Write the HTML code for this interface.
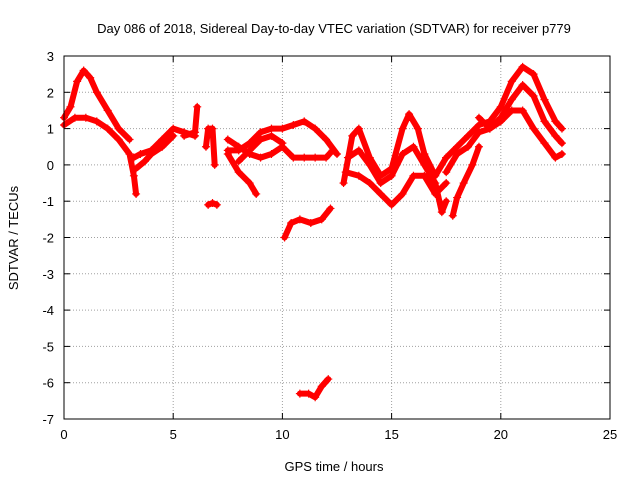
<!DOCTYPE html>
<html><head><meta charset="utf-8"><style>
body{margin:0;background:#fff;}
svg text{font-family:"Liberation Sans",sans-serif;font-size:13px;fill:#000;}
</style></head><body>
<svg id="chart" width="640" height="480" xmlns="http://www.w3.org/2000/svg">
<rect width="640" height="480" fill="#fff"/>
<text x="334" y="33" text-anchor="middle">Day 086 of 2018, Sidereal Day-to-day VTEC variation (SDTVAR) for receiver p779</text>
<text x="334" y="471" text-anchor="middle">GPS time / hours</text>
<text transform="translate(18,238) rotate(-90)" text-anchor="middle">SDTVAR / TECUs</text>
<g id="grid"></g>
<g id="ticks"></g>
<g id="marks"></g>
<rect x="64" y="56" width="546" height="363" fill="none" stroke="#000" stroke-width="1"/>
</svg>
<script>
const xTicks=[0,5,10,15,20,25];
const yTicks=[3,2,1,0,-1,-2,-3,-4,-5,-6,-7];
const xMin=0,xMax=25,yMin=-7,yMax=3;
const trackA_t=[0,0.3,0.6,0.9,1.2,1.5,2.0,2.5,3.0];
const trackA_v=[1.3,1.6,2.3,2.6,2.4,2.0,1.5,1.0,0.7];
const trackB_t=[0,0.5,1.0,1.5,2.0,2.5,3.0,3.2,3.3];
const trackB_v=[1.1,1.3,1.3,1.2,1.0,0.7,0.3,-0.3,-0.8];
const trackC_t=[3.2,3.5,4,4.5,5,5.5,6];
const trackC_v=[0.2,0.3,0.4,0.7,1.0,0.9,0.8];
const trackD_t=[3.3,3.7,4,4.5,5];
const trackD_v=[-0.1,0.1,0.3,0.5,0.8];
const trackE_t=[5.5,6,6.1];
const trackE_v=[0.8,0.9,1.6];
const trackF_t=[6.6,6.8,7.0];
const trackF_v=[-1.1,-1.05,-1.1];
const trackG_t=[6.5,6.6,6.8,6.9];
const trackG_v=[0.5,1.0,1.0,0.0];
const trackH_t=[7.5,8,8.5,8.8];
const trackH_v=[0.3,-0.2,-0.5,-0.8];
const trackI_t=[7.5,8,8.5,9,9.5,10,10.5,11,11.5,12,12.5];
const trackI_v=[0.4,0.4,0.6,0.9,1.0,1.0,1.1,1.2,1.0,0.7,0.3];
const trackJ_t=[7.5,8,8.5,9,9.5,10,10.5,11,11.5,12,12.3];
const trackJ_v=[0.7,0.5,0.3,0.2,0.3,0.5,0.2,0.2,0.2,0.2,0.4];
const trackK_t=[8,8.5,9,9.5,10];
const trackK_v=[0.1,0.4,0.7,0.8,0.6];
const trackL_t=[10.1,10.4,10.8,11.3,11.8,12.2];
const trackL_v=[-2.0,-1.6,-1.5,-1.6,-1.5,-1.2];
const trackM_t=[10.8,11.2,11.5,11.8,12.1];
const trackM_v=[-6.3,-6.3,-6.4,-6.1,-5.9];
const trackN_t=[12.8,13.2,13.5,14,14.5,15,15.5,15.8,16.2,16.5,17,17.5];
const trackN_v=[-0.5,0.8,1.0,0.2,-0.3,-0.1,1.0,1.4,1.0,0.3,-0.3,0.2];
const trackO_t=[12.9,13.5,14,14.5,15,15.5,16,16.5,17,17.5];
const trackO_v=[-0.2,-0.3,-0.5,-0.8,-1.1,-0.8,-0.3,-0.3,-0.8,-0.5];
const trackP_t=[13,13.5,14,14.5,15,15.5,16,16.5,17,17.3,17.5];
const trackP_v=[0.2,0.4,0.0,-0.5,-0.3,0.3,0.5,0.0,-0.5,-1.3,-1.0];
const trackQ_t=[17.5,18,18.5,19,19.5,20,20.5,21,21.5,22,22.5,22.8];
const trackQ_v=[-0.2,0.3,0.5,0.9,1.0,1.2,1.5,1.5,1.0,0.6,0.2,0.3];
const trackR_t=[17.5,18,18.5,19,19.5,20,20.5,21,21.5,22,22.5,22.8];
const trackR_v=[0.2,0.5,0.8,1.1,1.2,1.6,2.3,2.7,2.5,1.8,1.2,1.0];
const trackS_t=[19,19.5,20,20.5,21,21.5,22,22.5,22.8];
const trackS_v=[1.3,1.0,1.3,1.8,2.2,1.9,1.2,0.8,0.6];
const trackT_t=[17.8,18,18.3,18.7,19];
const trackT_v=[-1.4,-0.9,-0.5,0.0,0.5];
const tracks=[[trackA_t,trackA_v],[trackB_t,trackB_v],[trackC_t,trackC_v],[trackD_t,trackD_v],[trackE_t,trackE_v],[trackF_t,trackF_v],[trackG_t,trackG_v],[trackH_t,trackH_v],[trackI_t,trackI_v],[trackJ_t,trackJ_v],[trackK_t,trackK_v],[trackL_t,trackL_v],[trackM_t,trackM_v],[trackN_t,trackN_v],[trackO_t,trackO_v],[trackP_t,trackP_v],[trackQ_t,trackQ_v],[trackR_t,trackR_v],[trackS_t,trackS_v],[trackT_t,trackT_v]];
const L=64,R=610,T=56,B=419;
function xs(t){return L+(t-xMin)/(xMax-xMin)*(R-L);}
function ys(v){return B-(v-yMin)/(yMax-yMin)*(B-T);}
const NS="http://www.w3.org/2000/svg";
function mk(tag,attrs,parent){const e=document.createElementNS(NS,tag);for(const k in attrs)e.setAttribute(k,attrs[k]);parent.appendChild(e);return e;}
const grid=document.getElementById('grid'),ticks=document.getElementById('ticks'),marks=document.getElementById('marks');
xTicks.forEach(t=>{const x=xs(t);
 if(t>xMin&&t<xMax){const g=mk('line',{x1:x,x2:x,y1:T,y2:B,stroke:'#a0a0a0','stroke-dasharray':'1,2'},grid);
 
 }
 mk('line',{x1:x,x2:x,y1:B,y2:B-6,stroke:'#000'},ticks);mk('line',{x1:x,x2:x,y1:T,y2:T+6,stroke:'#000'},ticks);
 const tx=mk('text',{x:x,y:B+20,'text-anchor':'middle'},ticks);tx.textContent=t;
 
 });
yTicks.forEach(v=>{const y=ys(v);
 if(v>yMin&&v<yMax){const g=mk('line',{x1:L,x2:R,y1:y,y2:y,stroke:'#a0a0a0','stroke-dasharray':'1,2'},grid);
 
 }
 mk('line',{x1:L,x2:L+6,y1:y,y2:y,stroke:'#000'},ticks);mk('line',{x1:R,x2:R-6,y1:y,y2:y,stroke:'#000'},ticks);
 const tx=mk('text',{x:L-10,y:y+5,'text-anchor':'end'},ticks);tx.textContent=v;
 
 });
tracks.forEach((tr,i)=>{const [ts,vs]=tr;
 const pts=ts.map((t,j)=>xs(t)+','+ys(vs[j])).join(' ');
 const pl=mk('polyline',{points:pts,fill:'none',stroke:'#ff0000','stroke-width':6,'stroke-linejoin':'round','stroke-linecap':'round'},marks);
 
 
 ts.forEach((t,j)=>{const x=xs(t),y=ys(vs[j]);
  const p=mk('path',{d:`M${x-4},${y}H${x+4}M${x},${y-4}V${y+4}`,stroke:'#ff0000','stroke-width':1.2},marks);
  
  });});
</script>
</body></html>
